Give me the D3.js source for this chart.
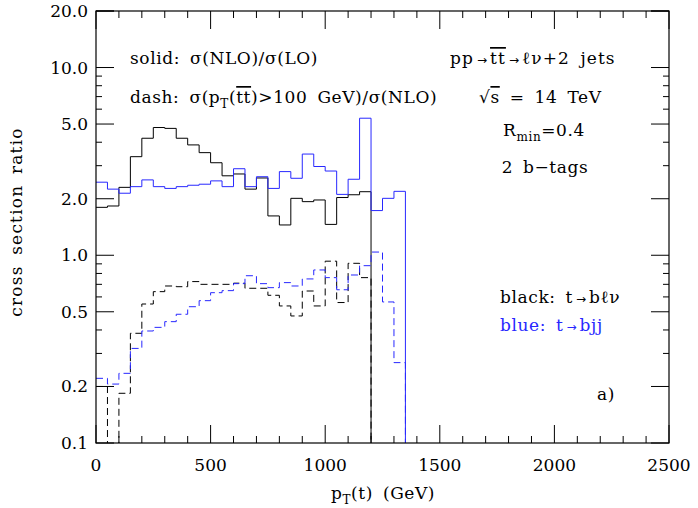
<!DOCTYPE html>
<html>
<head>
<meta charset="utf-8">
<script src="https://cdn.jsdelivr.net/npm/d3@7"></script>
<style>
  body { margin: 0; background: #fff; }
  text { font-family: "DejaVu Serif", "Liberation Serif", serif; fill: #000; }
  .note { font-size: 17px; letter-spacing: 0.6px; word-spacing: 4px; }
  .arrow { font-family: "DejaVu Sans", sans-serif; font-size: 12px; letter-spacing: 0; }
</style>
</head>
<body>
<div id="chart"></div>
<script>
// bins are 50 GeV wide, starting at 0
const binWidth = 50;
const blackSolid = [1.80, 1.83, 2.30, 3.35, 4.20, 4.79, 4.74, 4.20, 3.87, 3.52, 3.11, 2.65,
                    2.71, 2.25, 2.58, 1.62, 1.45, 2.01, 1.93, 1.97, 1.46, 2.03, 2.10, 2.18];
const blueSolid = [2.45, 2.25, 2.14, 2.32, 2.52, 2.32, 2.27, 2.32, 2.36, 2.39, 2.49, 2.32,
                   2.89, 2.32, 2.62, 2.27, 2.79, 2.57, 3.46, 2.97, 2.81, 2.11, 2.54, 5.37,
                   1.73, 2.01, 2.19];
const blackDash = [0.20, 0.08, 0.184, 0.384, 0.55, 0.64, 0.686, 0.68, 0.724, 0.70, 0.70, 0.70,
                   0.71, 0.667, 0.667, 0.612, 0.537, 0.475, 0.645, 0.537, 0.93, 0.56, 0.906, 0.76];
const blueDash = [0.221, 0.206, 0.235, 0.319, 0.395, 0.413, 0.443, 0.485, 0.532, 0.573, 0.632, 0.648,
                  0.706, 0.778, 0.706, 0.672, 0.715, 0.686, 0.748, 0.835, 0.76, 0.655, 0.785, 0.88,
                  1.04, 0.564, 0.268];

const xMajor = [0, 500, 1000, 1500, 2000, 2500];
const yLabels = [0.1, 0.2, 0.5, 1, 2, 5, 10, 20];

const width = 698, height = 508;
const plotLeft = 96, plotRight = 669, plotTop = 11, plotBottom = 443;
const blue = "#2828ff";

const svg = d3.select("#chart").append("svg")
    .attr("width", width)
    .attr("height", height);

const x = d3.scaleLinear().domain([0, 2500]).range([plotLeft, plotRight]);
const y = d3.scaleLog().domain([0.1, 20]).range([plotBottom, plotTop]);

svg.append("clipPath").attr("id", "plot")
    .append("rect")
    .attr("x", plotLeft).attr("y", plotTop)
    .attr("width", plotRight - plotLeft).attr("height", plotBottom - plotTop);

// histogram outline: steps, then a drop to the floor at the last edge
function steps(values){
    let pts = [];
    values.forEach((v, i) => {
        pts.push([i * binWidth, v]);
        pts.push([(i + 1) * binWidth, v]);
    });
    pts.push([values.length * binWidth, 0.01]);
    return pts;
}

const line = d3.line()
    .x(d => x(d[0]))
    .y(d => y(d[1]));

const series = [
    {values: blackSolid, color: "#000", dash: null},
    {values: blueSolid, color: blue, dash: null},
    {values: blackDash, color: "#000", dash: "7,4"},
    {values: blueDash, color: blue, dash: "7,4"}
];

const g = svg.append("g").attr("clip-path", "url(#plot)");
series.forEach(s => {
    g.append("path")
        .attr("d", line(steps(s.values)))
        .attr("fill", "none")
        .attr("stroke", s.color)
        .attr("stroke-width", 1)
        .attr("stroke-dasharray", s.dash);
});

// frame
svg.append("rect")
    .attr("x", plotLeft).attr("y", plotTop)
    .attr("width", plotRight - plotLeft).attr("height", plotBottom - plotTop)
    .attr("fill", "none")
    .attr("stroke", "#000")
    .attr("stroke-width", 1.2);

// x ticks (bottom and top, pointing in)
const xTicks = d3.range(0, 2501, 100);
xTicks.forEach(t => {
    const len = t % 500 === 0 ? 18 : 7;
    svg.append("line")
        .attr("x1", x(t)).attr("x2", x(t))
        .attr("y1", plotBottom).attr("y2", plotBottom - len)
        .attr("stroke", "#000");
    svg.append("line")
        .attr("x1", x(t)).attr("x2", x(t))
        .attr("y1", plotTop).attr("y2", plotTop + len)
        .attr("stroke", "#000");
});
xMajor.forEach(t => {
    svg.append("text")
        .attr("x", x(t)).attr("y", 471)
        .attr("text-anchor", "middle")
        .attr("font-size", 17)
        .text(t);
});

// y ticks (left and right, pointing in)
let yTicks = [];
[0.1, 1, 10].forEach(dec => {
    for (let k = 1; k < 10; k++) {
        const v = dec * k;
        if (v >= 0.1 && v <= 20.0001) yTicks.push(v);
    }
});
yTicks.push(20);
yTicks.forEach(v => {
    const major = yLabels.some(l => Math.abs(l - v) < 1e-9);
    const len = major ? 18 : 6;
    svg.append("line")
        .attr("x1", plotLeft).attr("x2", plotLeft + len)
        .attr("y1", y(v)).attr("y2", y(v))
        .attr("stroke", "#000");
    svg.append("line")
        .attr("x1", plotRight).attr("x2", plotRight - len)
        .attr("y1", y(v)).attr("y2", y(v))
        .attr("stroke", "#000");
});
yLabels.forEach(v => {
    svg.append("text")
        .attr("x", 88).attr("y", y(v) + 6)
        .attr("text-anchor", "end")
        .attr("font-size", 17)
        .text(v.toFixed(1));
});

// axis titles
const xt = svg.append("text")
    .attr("class", "note")
    .attr("x", 383).attr("y", 499)
    .attr("text-anchor", "middle");
xt.append("tspan").text("p");
xt.append("tspan").attr("font-size", 12).attr("dy", 5).text("T");
xt.append("tspan").attr("dy", -5).text("(t) (GeV)");

svg.append("text")
    .attr("class", "note")
    .attr("transform", "translate(22,222) rotate(-90)")
    .attr("text-anchor", "middle")
    .style("letter-spacing", "1.2px")
    .text("cross section ratio");

// annotations
svg.append("text").attr("class", "note").attr("x", 130).attr("y", 64)
    .text("solid: σ(NLO)/σ(LO)");

const dash = svg.append("text").attr("class", "note").attr("x", 130).attr("y", 103);
dash.append("tspan").text("dash: σ(p");
dash.append("tspan").attr("font-size", 12).attr("dy", 5).text("T");
dash.append("tspan").attr("dy", -5).text("(");
dash.append("tspan").style("text-decoration", "overline").text("tt");
dash.append("tspan").text(")>100 GeV)/σ(NLO)");

const pp = svg.append("text").attr("class", "note").attr("x", 450).attr("y", 64)
    .style("letter-spacing", "1.1px");
pp.append("tspan").text("pp");
pp.append("tspan").attr("class", "arrow").attr("dx", 3).text("→");
pp.append("tspan").attr("dx", 3).style("text-decoration", "overline").text("tt");
pp.append("tspan").attr("class", "arrow").attr("dx", 3).text("→");
pp.append("tspan").attr("dx", 3).text("ℓν+2 jets");

const rs = svg.append("text").attr("class", "note").attr("x", 479).attr("y", 103);
rs.append("tspan").text("√");
rs.append("tspan").style("text-decoration", "overline").text("s");
rs.append("tspan").text(" = 14 TeV");

const rm = svg.append("text").attr("class", "note").attr("x", 544).attr("y", 136)
    .attr("text-anchor", "middle");
rm.append("tspan").text("R");
rm.append("tspan").attr("font-size", 12).attr("dy", 5).text("min");
rm.append("tspan").attr("dy", -5).text("=0.4");

svg.append("text").attr("class", "note").attr("x", 545).attr("y", 173)
    .attr("text-anchor", "middle")
    .text("2 b−tags");

const bl = svg.append("text").attr("class", "note").attr("x", 500).attr("y", 303);
bl.append("tspan").text("black: t");
bl.append("tspan").attr("class", "arrow").attr("dx", 3).text("→");
bl.append("tspan").attr("dx", 3).text("bℓν");

const bu = svg.append("text").attr("class", "note").attr("x", 500).attr("y", 331)
    .style("fill", blue);
bu.append("tspan").text("blue: t");
bu.append("tspan").attr("class", "arrow").attr("dx", 3).text("→");
bu.append("tspan").attr("dx", 3).text("bjj");

svg.append("text").attr("class", "note").attr("x", 597).attr("y", 400)
    .text("a)");
</script>
</body>
</html>
